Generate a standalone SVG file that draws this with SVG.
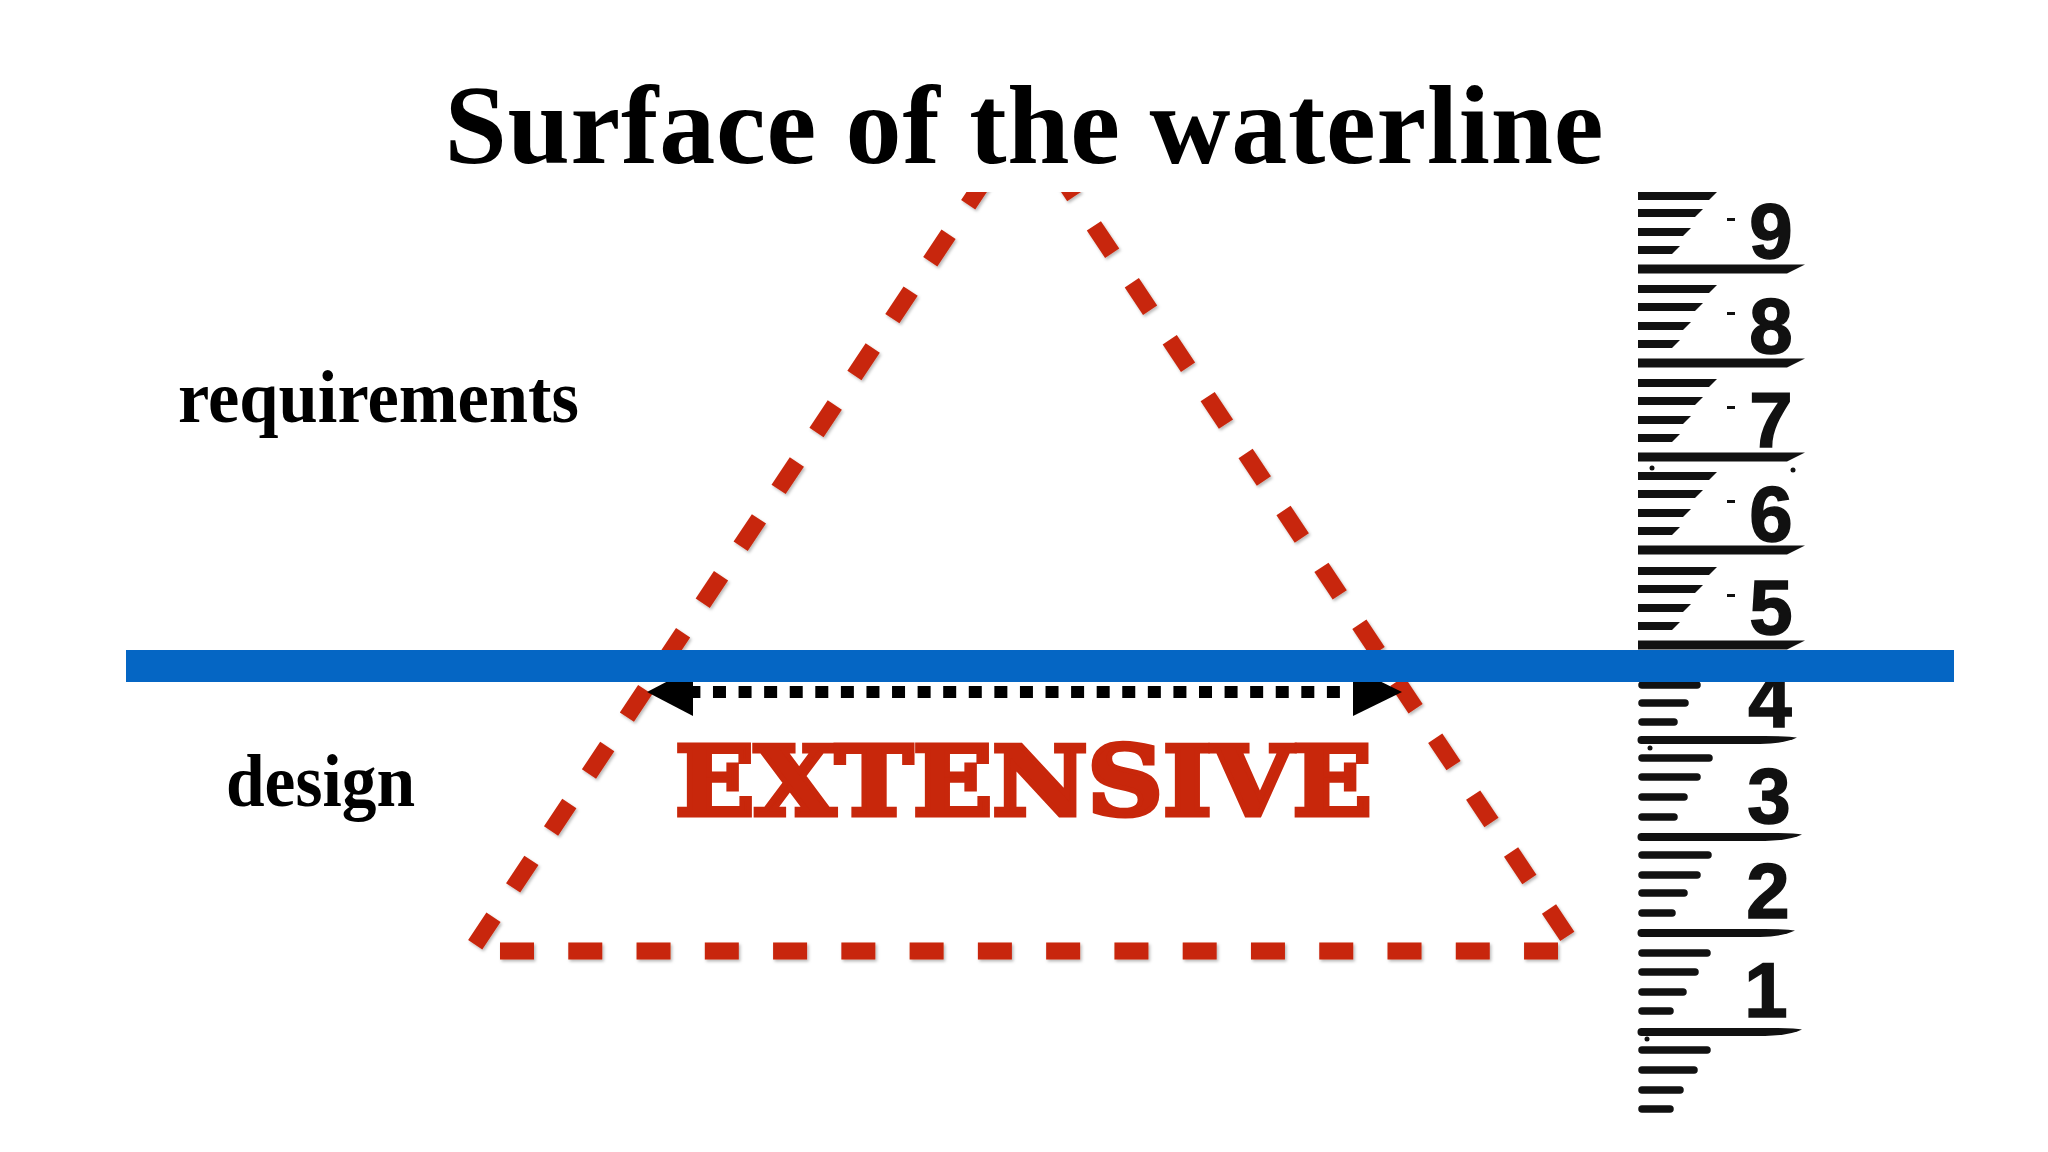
<svg xmlns="http://www.w3.org/2000/svg" width="2048" height="1152" viewBox="0 0 2048 1152">
  <style>
    .serif { font-family: "Liberation Serif", "Times New Roman", serif; font-weight: bold; fill: #000; }
    .dash { fill: none; stroke: #C8270B; stroke-width: 17; stroke-linecap: butt; }
    .num { font-family: "Liberation Sans", Arial, sans-serif; font-weight: bold; font-size: 78px; fill: #111; text-anchor: middle; stroke: #111; stroke-width: 1.5; }
    .tk { fill: #111; }
    .tl { stroke: #111; stroke-width: 7.5; stroke-linecap: round; }
  </style>
  <defs>
    <clipPath id="belowTitle">
      <rect x="0" y="192" width="2048" height="960"/>
    </clipPath>
    <filter id="sh" x="-5%" y="-5%" width="110%" height="110%">
      <feDropShadow dx="1.5" dy="2" stdDeviation="1.5" flood-color="#000" flood-opacity="0.28"/>
    </filter>
  </defs>
  <rect x="0" y="0" width="2048" height="1152" fill="#FFFFFF"/>

  <g id="title">
    <text class="serif" x="1024" y="163" font-size="112" text-anchor="middle" textLength="1159">Surface of the waterline</text>
  </g>

  <g id="label-requirements">
    <text class="serif" x="178" y="422" font-size="73" textLength="401" lengthAdjust="spacingAndGlyphs">requirements</text>
  </g>
  <g id="label-design">
    <text class="serif" x="226" y="806" font-size="73" textLength="189" lengthAdjust="spacingAndGlyphs">design</text>
  </g>

  <g id="ruler">
    <!-- upper section: wedge ticks -->
    <g class="tk">
      <polygon points="1638,192 1717,192 1709,200 1638,200"/>
      <polygon points="1638,209 1703,209 1695,217 1638,217"/>
      <polygon points="1638,228 1691,228 1683,236 1638,236"/>
      <polygon points="1638,246 1680,246 1672,254 1638,254"/>
      <polygon points="1638,264.5 1805,264.5 1787,273.5 1638,273.5"/>

      <polygon points="1638,285 1717,285 1709,293 1638,293"/>
      <polygon points="1638,303 1703,303 1695,311 1638,311"/>
      <polygon points="1638,322 1691,322 1683,330 1638,330"/>
      <polygon points="1638,340 1680,340 1672,348 1638,348"/>
      <polygon points="1638,358.5 1805,358.5 1787,367.5 1638,367.5"/>

      <polygon points="1638,379 1717,379 1709,387 1638,387"/>
      <polygon points="1638,397 1703,397 1695,405 1638,405"/>
      <polygon points="1638,416 1691,416 1683,424 1638,424"/>
      <polygon points="1638,434 1680,434 1672,442 1638,442"/>
      <polygon points="1638,452.5 1805,452.5 1787,461.5 1638,461.5"/>

      <polygon points="1638,472 1717,472 1709,480 1638,480"/>
      <polygon points="1638,490 1703,490 1695,498 1638,498"/>
      <polygon points="1638,509 1691,509 1683,517 1638,517"/>
      <polygon points="1638,527 1680,527 1672,535 1638,535"/>
      <polygon points="1638,545.5 1805,545.5 1787,554.5 1638,554.5"/>

      <polygon points="1638,567 1717,567 1709,575 1638,575"/>
      <polygon points="1638,585 1703,585 1695,593 1638,593"/>
      <polygon points="1638,604 1691,604 1683,612 1638,612"/>
      <polygon points="1638,622 1680,622 1672,630 1638,630"/>
      <polygon points="1638,640.5 1805,640.5 1787,649.5 1638,649.5"/>

      <!-- small marks -->
      <rect x="1727" y="218" width="8" height="3"/>
      <rect x="1727" y="312" width="8" height="3"/>
      <rect x="1727" y="406" width="8" height="3"/>
      <rect x="1727" y="500" width="8" height="3"/>
      <rect x="1727" y="594" width="8" height="3"/>
      <circle cx="1652" cy="468" r="2.5"/>
      <circle cx="1793" cy="470" r="2.5"/>
      <circle cx="1650" cy="748" r="2.5"/>
      <circle cx="1647" cy="1039" r="2.5"/>
    </g>
    <!-- lower section: rounded ticks -->
    <g class="tl">
      <line x1="1642" y1="664" x2="1708" y2="664"/>
      <line x1="1642" y1="685" x2="1697" y2="685"/>
      <line x1="1642" y1="703" x2="1685" y2="703"/>
      <line x1="1642" y1="722" x2="1674" y2="722"/>

      <line x1="1642" y1="758" x2="1709" y2="758"/>
      <line x1="1642" y1="777" x2="1697" y2="777"/>
      <line x1="1642" y1="797" x2="1684" y2="797"/>
      <line x1="1642" y1="817" x2="1674" y2="817"/>

      <line x1="1642" y1="855" x2="1708" y2="855"/>
      <line x1="1642" y1="875" x2="1697" y2="875"/>
      <line x1="1642" y1="893" x2="1684" y2="893"/>
      <line x1="1642" y1="913" x2="1672" y2="913"/>

      <line x1="1642" y1="953" x2="1707" y2="953"/>
      <line x1="1642" y1="972" x2="1695" y2="972"/>
      <line x1="1642" y1="992" x2="1683" y2="992"/>
      <line x1="1642" y1="1011" x2="1670" y2="1011"/>

      <line x1="1642" y1="1050" x2="1707" y2="1050"/>
      <line x1="1642" y1="1070" x2="1694" y2="1070"/>
      <line x1="1642" y1="1090" x2="1680" y2="1090"/>
      <line x1="1642" y1="1109" x2="1670" y2="1109"/>
    </g>
    <g class="tk">
      <path d="M1641.5,736 L1765,736 Q1790,736 1797,737.5 Q1785,743.5 1760,744 L1641.5,744 A4,4 0 0 1 1641.5,736 Z"/>
      <path d="M1641.5,833 L1770,833 Q1795,833 1802,834.5 Q1790,840.5 1765,841 L1641.5,841 A4,4 0 0 1 1641.5,833 Z"/>
      <path d="M1641.5,929 L1765,929 Q1788,929 1795,930.5 Q1783,936.5 1760,937 L1641.5,937 A4,4 0 0 1 1641.5,929 Z"/>
      <path d="M1641.5,1028 L1770,1028 Q1795,1028 1802,1029.5 Q1790,1035.5 1765,1036 L1641.5,1036 A4,4 0 0 1 1641.5,1028 Z"/>
    </g>
    <text class="num" x="1771" y="258">9</text>
    <text class="num" x="1771" y="353">8</text>
    <text class="num" x="1771" y="447">7</text>
    <text class="num" x="1771" y="541">6</text>
    <text class="num" x="1771" y="634">5</text>
    <text class="num" x="1770" y="727">4</text>
    <text class="num" x="1769" y="823">3</text>
    <text class="num" x="1768" y="918">2</text>
    <text class="num" x="1766" y="1017">1</text>
  </g>

  <g id="triangle" clip-path="url(#belowTitle)">
    <g filter="url(#sh)">
      <line class="dash" x1="475.2" y1="944.8" x2="1024" y2="121" stroke-dasharray="33 35.4"/>
      <line class="dash" x1="1567.3" y1="936.4" x2="1024" y2="121" stroke-dasharray="33 35.4"/>
      <line class="dash" x1="500" y1="951" x2="1558" y2="951" stroke-dasharray="34 34.27"/>
    </g>
  </g>

  <g id="extensive">
    <text x="675" y="815" font-family="'DejaVu Serif', 'Liberation Serif', serif" font-weight="bold" font-size="95" fill="#C8270B" stroke="#C8270B" stroke-width="5" stroke-linejoin="miter" textLength="697" lengthAdjust="spacingAndGlyphs">EXTENSIVE</text>
  </g>

  <g id="connectors">
    <line x1="687.4" y1="692" x2="1345" y2="692" stroke="#000" stroke-width="12" stroke-dasharray="13 12.58"/>
    <polygon points="647,692 693,668 693,716" fill="#000"/>
    <polygon points="1402,692 1353,668 1353,716" fill="#000"/>
  </g>

  <g id="waterline">
    <rect x="126" y="650" width="1828" height="32" fill="#0566C4"/>
  </g>
</svg>
